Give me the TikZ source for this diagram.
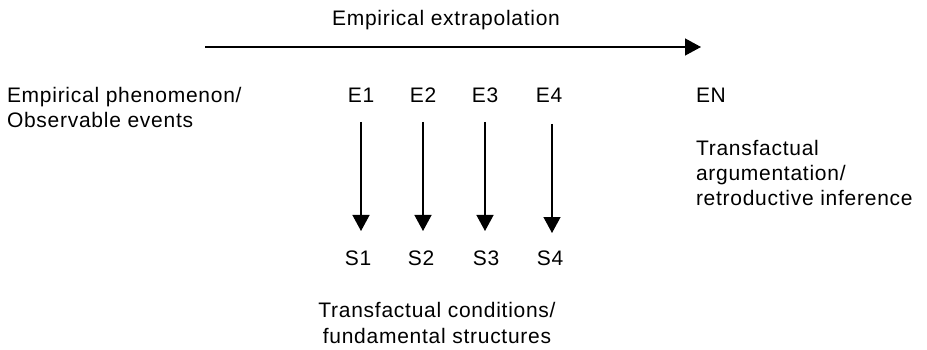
\documentclass[tikz,border=0pt]{standalone}
\usepackage{fontspec}
\setmainfont{Liberation Sans}[LetterSpace=3.5]
\usetikzlibrary{arrows.meta}
\begin{document}
\begin{tikzpicture}[x=1pt,y=-1pt,
  lbl/.style={inner sep=0pt,outer sep=0pt,font=\fontsize{21}{25.5}\selectfont},
  arr/.style={line width=1.3pt,-{Triangle[length=16pt,width=17pt]}}]
\useasboundingbox (0,0) rectangle (927,350);
\node[lbl,anchor=base] (title) at (446,26) {Empirical extrapolation};
\coordinate (hs) at (205,47);
\coordinate (he) at (701,47);
\draw[arr] (hs) -- (he);
\node[lbl,anchor=base west,align=left] (emp) at (7,128) {Empirical phenomenon/\\Observable events};
\node[lbl,anchor=base] (e1) at (361,103) {E1};
\node[lbl,anchor=base] (e2) at (423,103) {E2};
\node[lbl,anchor=base] (e3) at (485,103) {E3};
\node[lbl,anchor=base] (e4) at (549,103) {E4};
\node[lbl,anchor=base west] (en) at (696,103) {EN};
\node[lbl,anchor=base west,align=left] (tra) at (696,206) {Transfactual\\argumentation/\\retroductive inference};
\node[lbl,anchor=base] (s1) at (358,265) {S1};
\node[lbl,anchor=base] (s2) at (421,265) {S2};
\node[lbl,anchor=base] (s3) at (486,265) {S3};
\node[lbl,anchor=base] (s4) at (550,265) {S4};
\node[lbl,anchor=base,align=center] (tc) at (437,343) {Transfactual conditions/\\fundamental structures};
\draw[arr] (361,122) -- (361,231);
\draw[arr] (423,122) -- (423,231);
\draw[arr] (485,122) -- (485,231);
\draw[arr] (552,124) -- (552,233);
\end{tikzpicture}
\end{document}
